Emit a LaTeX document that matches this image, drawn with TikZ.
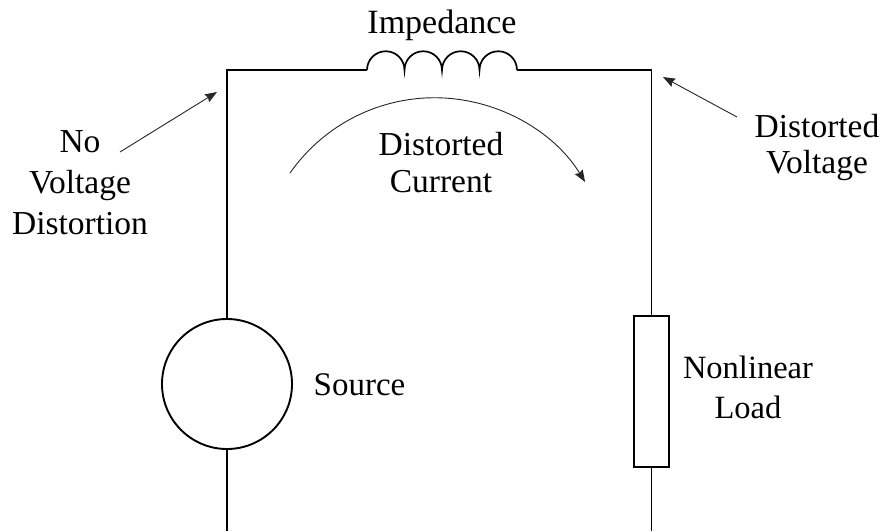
\documentclass[tikz,border=0pt]{standalone}
\usepackage{fontspec}
\setmainfont{Liberation Serif}
\usetikzlibrary{arrows.meta}
\newcommand{\lbltab}[3]{\fontsize{#1}{#2}\selectfont\begin{tabular}[t]{@{}c@{}}#3\end{tabular}}
\begin{document}
\begin{tikzpicture}[x=1pt,y=-1pt,
  wire/.style={line width=1.8pt, line cap=butt},
  thinwire/.style={line width=1.4pt},
  pointer/.style={line width=0.9pt, draw=black!85, -{Stealth[length=12pt,width=9pt,inset=1.5pt]}},
  lbl/.style={inner sep=0pt, anchor=base, font=\fontsize{33}{39}\selectfont, text=black}]
\useasboundingbox (0,0) rectangle (887,531);
\fill[white] (0,0) rectangle (887,531);

% components
\node[draw, circle, line width=1.9pt, minimum size=130pt, inner sep=0pt] (src) at (227,384) {};
\node[draw, rectangle, line width=2pt, minimum width=34.5pt, minimum height=151pt, inner sep=0pt] (load) at (651.6,391.2) {};

\coordinate (tl) at (227,70);
\coordinate (tr) at (651.6,70);
\coordinate (indA) at (367,70);
\coordinate (indB) at (517,70);
\coordinate (botL) at (227,531);
\coordinate (botR) at (651.6,531);

% wires
\draw[wire] (src.north) -- (tl) -- (indA);
\draw[line width=1.7pt] (indA) arc[start angle=180, end angle=360, radius=18.75]
  arc[start angle=180, end angle=360, radius=18.75]
  arc[start angle=180, end angle=360, radius=18.75]
  arc[start angle=180, end angle=360, radius=18.75];
\draw[thinwire] (indB) -- (tr) -- (load.north);
\draw[wire] (src.south) -- (botL);
\draw[thinwire] (load.south) -- (botR);

% labels
\node[lbl, font=\fontsize{34}{40}\selectfont] (imp) at (442,33) {Impedance};
\node[lbl] (nvd) at (80,152) {\lbltab{33.5}{41}{No\\Voltage\\Distortion}};
\node[lbl] (dc) at (441,155) {\lbltab{33.5}{37}{Distorted\\Current}};
\node[lbl] (dv) at (817,137) {\lbltab{33.5}{36.5}{Distorted\\Voltage}};
\node[lbl] (srcl) at (359.5,395) {Source};
\node[lbl] (nll) at (748,378) {\lbltab{32.5}{40}{Nonlinear\\Load}};

% pointers
\coordinate (p1s) at (120,152);
\coordinate (p1e) at (217,92);
\coordinate (p2s) at (737,117);
\coordinate (p2e) at (663,77);
\coordinate (cs) at (290,173);
\draw[pointer] (p1s) -- (p1e);
\draw[pointer] (p2s) -- (p2e);
\draw[pointer] (cs) arc[start angle=215, end angle=328.5, radius=176.5];
\end{tikzpicture}
\end{document}
